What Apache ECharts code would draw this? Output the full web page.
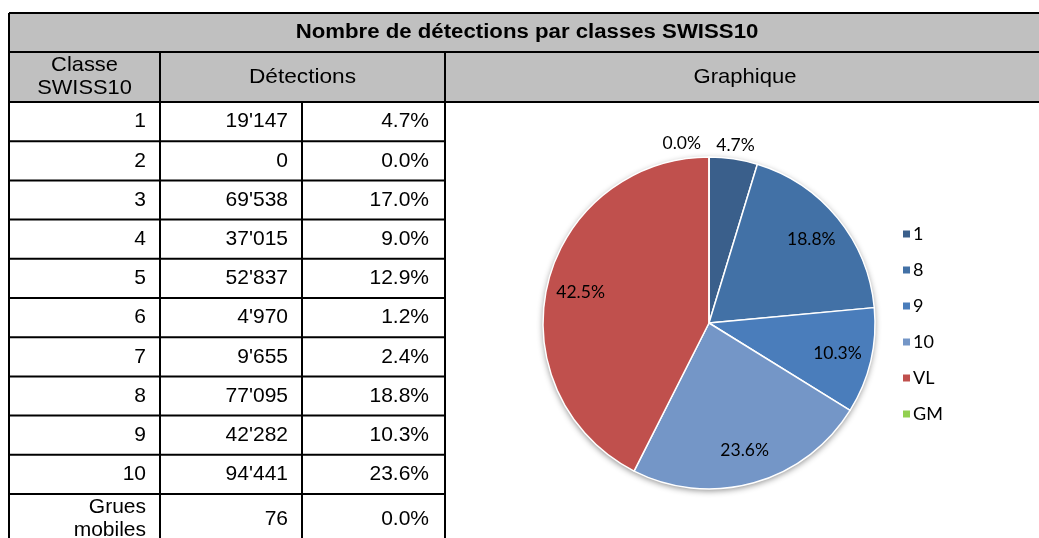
<!DOCTYPE html>
<html>
<head>
<meta charset="utf-8">
<title>Nombre de détections par classes SWISS10</title>
<script src="https://cdn.jsdelivr.net/npm/echarts@6.0.0/dist/echarts.min.js"></script>
<style>
  html, body { margin: 0; padding: 0; background: #fff; }
  #chart { width: 1039px; height: 538px; }
</style>
</head>
<body>
<div id="chart"></div>
<script>
// table data
const titleText = "Nombre de détections par classes SWISS10";
const headClasse = "Classe\nSWISS10";
const headDetections = "Détections";
const headGraph = "Graphique";
const classes = ["1", "2", "3", "4", "5", "6", "7", "8", "9", "10", "Grues\nmobiles"];
const detections = [19147, 0, 69538, 37015, 52837, 4970, 9655, 77095, 42282, 94441, 76];
const percents = [4.7, 0.0, 17.0, 9.0, 12.9, 1.2, 2.4, 18.8, 10.3, 23.6, 0.0];

// pie data
const pieNames = ["1", "8", "9", "10", "VL", "GM"];
const pieValues = [4.7, 18.8, 10.3, 23.6, 42.5, 0.0];
const pieColors = ["#3a5f8b", "#4271a6", "#4a7dbb", "#7496c7", "#c0504d", "#92d050"];

// layout of the table
const X0 = 9, X1 = 160, X2 = 302, X3 = 445, XR = 1045;
const Y0 = 13, Y1 = 52, Y2 = 102, ROW_H = 39.2, YB = 560;
const FONT = "Liberation Sans, Arial, sans-serif";

function fmt(n) {
  return String(n).replace(/\B(?=(\d{3})+(?!\d))/g, "'");
}

function txt(x, y, text, align, opts) {
  opts = opts || {};
  return {
    type: "text", x: x, y: y, silent: true, z: 10,
    scaleX: opts.sx || 1,
    style: {
      text: text,
      fontFamily: FONT,
      fontSize: opts.size || 21,
      fontWeight: opts.bold ? "bold" : "normal",
      lineHeight: 23,
      fill: "#000",
      align: align, verticalAlign: "middle",
      textAlign: align, textVerticalAlign: "middle"
    }
  };
}

function line(x1, y1, x2, y2) {
  return {
    type: "line", silent: true, z: 5,
    shape: { x1: x1, y1: y1, x2: x2, y2: y2 },
    style: { stroke: "#000", lineWidth: 2 }
  };
}

const elements = [];
// gray header band
elements.push({ type: "rect", silent: true, z: 1,
  shape: { x: X0, y: Y0, width: XR - X0, height: Y2 - Y0 },
  style: { fill: "#c0c0c0" } });

// horizontal rules
elements.push(line(X0, Y0, XR, Y0));
elements.push(line(X0, Y1, XR, Y1));
elements.push(line(X0, Y2, XR, Y2));
for (let i = 1; i < classes.length; i++) {
  elements.push(line(X0, Y2 + ROW_H * i, X3, Y2 + ROW_H * i));
}
// vertical rules
elements.push(line(X0, Y0, X0, YB));
elements.push(line(X1, Y1, X1, YB));
elements.push(line(X3, Y1, X3, YB));
elements.push(line(X2, Y2, X2, YB));

// headers
elements.push(txt((X0 + XR) / 2, (Y0 + Y1) / 2, titleText, "center", { bold: true, size: 20, sx: 1.11 }));
elements.push(txt((X0 + X1) / 2, (Y1 + Y2) / 2, headClasse, "center", { sx: 1.04 }));
elements.push(txt((X1 + X3) / 2, (Y1 + Y2) / 2, headDetections, "center", { sx: 1.08 }));
elements.push(txt((X3 + XR) / 2, (Y1 + Y2) / 2, headGraph, "center", { sx: 1.05 }));

// rows
classes.forEach(function (c, i) {
  const yc = Y2 + ROW_H * i + (i === classes.length - 1 ? 25 : ROW_H / 2);
  elements.push(txt(X1 - 14, yc, c, "right"));
  elements.push(txt(X2 - 14, yc, fmt(detections[i]), "right"));
  elements.push(txt(X3 - 16, yc, percents[i].toFixed(1) + "%", "right"));
});

const pieData = pieNames.map(function (n, i) {
  return { name: n, value: pieValues[i], itemStyle: { color: pieColors[i] } };
});
const labelData = pieNames.map(function (n, i) {
  const outside = (i === 0 || i === pieNames.length - 1);
  return { name: n, value: pieValues[i], label: { position: outside ? "outside" : "inside" } };
});

const CENTER = [709, 323];
const R = 166;

const chart = echarts.init(document.getElementById("chart"));
chart.setOption({
  animation: false,
  backgroundColor: "#fff",
  graphic: { elements: elements },
  legend: {
    orient: "vertical",
    left: 896, top: 220,
    data: pieNames,
    icon: "rect",
    itemWidth: 9, itemHeight: 9,
    itemGap: 18,
    textStyle: { fontFamily: "Lato, sans-serif", fontSize: 18, color: "#000", lineHeight: 18, padding: [0, 0, 0, -3] },
    selectedMode: false
  },
  series: [
    {
      // shadow disc behind the pie
      type: "pie", silent: true, z: 1,
      center: CENTER, radius: R,
      label: { show: false }, labelLine: { show: false },
      data: [{ value: 1, name: "", itemStyle: { color: "#fff", shadowBlur: 6, shadowOffsetY: 2, shadowColor: "rgba(0,0,0,0.45)" } }]
    },
    {
      type: "pie", z: 2,
      center: CENTER, radius: R,
      startAngle: 90, clockwise: true,
      label: { show: false }, labelLine: { show: false },
      itemStyle: { borderColor: "#fff", borderWidth: 1.5 },
      data: pieData
    },
    {
      // label carrier, same angles, labels sit at ~0.79 r
      type: "pie", z: 3, silent: true,
      center: CENTER, radius: [92, R],
      startAngle: 90, clockwise: true,
      avoidLabelOverlap: false,
      itemStyle: { color: "rgba(0,0,0,0)" },
      label: {
        show: true, color: "#000",
        fontFamily: "Lato, sans-serif", fontSize: 17.5,
        distanceToLabelLine: 0,
        formatter: function (p) { return p.value.toFixed(1) + "%"; }
      },
      labelLine: { show: false, length: 14, length2: 0 },
      labelLayout: function (p) {
        if (p.dataIndex === 0) return { align: "center" };
        if (p.dataIndex === pieNames.length - 1) return { align: "right", dx: -8 };
        return {};
      },
      data: labelData
    }
  ]
});
</script>
</body>
</html>
